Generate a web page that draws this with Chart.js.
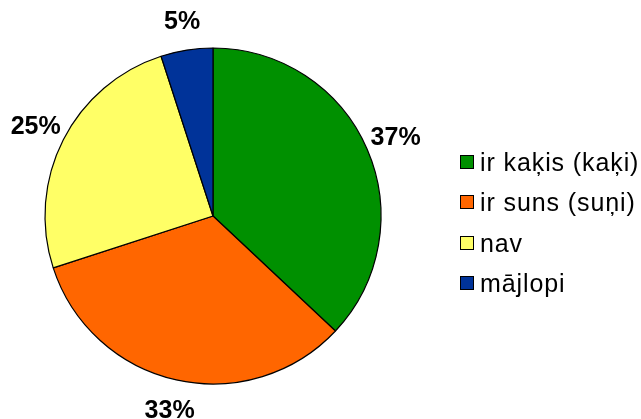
<!DOCTYPE html>
<html>
<head>
<meta charset="utf-8">
<script src="https://cdn.jsdelivr.net/npm/chart.js"></script>
<style>
html,body{margin:0;padding:0;background:#fff;}
#wrap{width:641px;height:419px;}
</style>
</head>
<body>
<div id="wrap"><canvas id="c" width="641" height="419"></canvas></div>
<script>
const categories = ["ir kaķis (kaķi)", "ir suns (suņi)", "nav", "mājlopi"];
const values = [37, 33, 25, 5];
const valueLabels = ["37%", "33%", "25%", "5%"];
const colors = ["#009000", "#FF6600", "#FFFF66", "#003399"];

const labelPlugin = {
  id: 'outLabels',
  afterDatasetsDraw(chart) {
    const ctx = chart.ctx;
    const meta = chart.getDatasetMeta(0);
    ctx.save();
    ctx.font = 'bold 25px "Liberation Sans", Arial, sans-serif';
    ctx.fillStyle = '#000';
    ctx.textAlign = 'center';
    ctx.textBaseline = 'middle';
    meta.data.forEach((arc, i) => {
      const p = arc.getProps(['x','y','startAngle','endAngle','outerRadius'], true);
      const a = (p.startAngle + p.endAngle) / 2;
      const d = p.outerRadius + (i === 3 ? 29 : 31);
      ctx.fillText(valueLabels[i], p.x + Math.cos(a) * d, p.y + Math.sin(a) * d + 1);
    });
    ctx.restore();
  }
};

const legendPlugin = {
  id: 'sideLegend',
  afterDraw(chart) {
    const ctx = chart.ctx;
    const labels = chart.data.labels;
    const bg = chart.data.datasets[0].backgroundColor;
    ctx.save();
    ctx.font = '25px "Liberation Sans", Arial, sans-serif';
    ctx.textAlign = 'left';
    ctx.textBaseline = 'alphabetic';
    if ('letterSpacing' in ctx) ctx.letterSpacing = '0.9px';
    const y0 = 162, step = 40.3;
    labels.forEach((t, i) => {
      const cy = Math.round(y0 + i * step);
      ctx.fillStyle = bg[i];
      ctx.fillRect(460.5, cy - 6.5, 13, 13);
      ctx.strokeStyle = '#000';
      ctx.lineWidth = 1;
      ctx.strokeRect(460.5, cy - 6.5, 13, 13);
      ctx.fillStyle = '#000';
      ctx.fillText(t, 480, cy + 9);
    });
    ctx.restore();
  }
};

new Chart(document.getElementById('c'), {
  type: 'pie',
  data: {
    labels: categories,
    datasets: [{
      data: values,
      backgroundColor: colors,
      borderColor: '#000',
      borderWidth: 1.2,
      hoverOffset: 0
    }]
  },
  options: {
    responsive: false,
    animation: false,
    radius: 168,
    layout: { padding: { left: 45, right: 260, top: 48, bottom: 35 } },
    plugins: { legend: { display: false }, tooltip: { enabled: false } },
    events: []
  },
  plugins: [labelPlugin, legendPlugin]
});
</script>
</body>
</html>
